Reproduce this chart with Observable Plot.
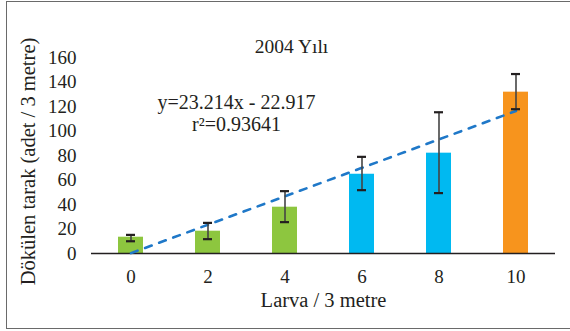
<!DOCTYPE html>
<html>
<head>
<meta charset="utf-8">
<script src="https://cdn.jsdelivr.net/npm/d3@7"></script>
<script src="https://cdn.jsdelivr.net/npm/@observablehq/plot@0.6"></script>
<style>
  html, body { margin: 0; padding: 0; background: #fff; }
  #wrap { position: relative; width: 570px; height: 331px; overflow: hidden; }
  #frame { position: absolute; left: 6px; top: 1px; width: 580px; height: 326px; border: 1px solid #6a6a6a; box-sizing: content-box; pointer-events: none; }
  #chart { position: absolute; left: 0; top: 0; }
  #chart svg text { font-family: 'Liberation Serif', 'Times New Roman', serif; }
</style>
</head>
<body>
<div id="wrap"><div id="frame"></div><div id="chart"></div></div>
<script>
// ---- data ----
const categories = ["0", "2", "4", "6", "8", "10"];
const means = [13.3, 18.2, 37.8, 64.7, 81.9, 131.7];
const lows = [10.0, 11.7, 25.6, 51.7, 49.3, 117.8];
const highs = [15.2, 25.0, 50.9, 78.9, 115.3, 146.5];
const barColors = ["#8dc63f", "#8dc63f", "#8dc63f", "#00b9f1", "#00b9f1", "#f7941d"];
// trendline y = 23.214x - 22.917 (x = 1..6), values at each category
const trendValues = [0.297, 23.511, 46.725, 69.939, 93.153, 116.367];
const yTicks = [0, 20, 40, 60, 80, 100, 120, 140, 160];
const titleText = "2004 Yılı";
const equationText = "y=23.214x - 22.917";
const r2Text = "r²=0.93641";
const xLabel = "Larva / 3 metre";
const yLabel = "Dökülen tarak (adet / 3 metre)";

const rows = categories.map((c, i) => ({
  cat: c, mean: means[i], low: lows[i], high: highs[i], color: barColors[i], trend: trendValues[i]
}));

const FONT = "'Liberation Serif', 'Times New Roman', serif";
const INK = "#231f20";

const chart = Plot.plot({
  width: 570,
  height: 331,
  marginLeft: 91,
  marginRight: 15,
  marginTop: 57,
  marginBottom: 78,
  style: { fontFamily: FONT, color: INK, background: "transparent" },
  x: { type: "band", domain: categories, paddingInner: 0.677, paddingOuter: 0.3385 },
  y: { domain: [0, 160] },
  marks: [
    Plot.barY(rows, { x: "cat", y: "mean", fill: "color" }),
    Plot.ruleY([0], { stroke: INK, strokeWidth: 1.5 }),
    Plot.line(rows, { x: "cat", y: "trend", stroke: "#1f78c8", strokeWidth: 2.6, strokeDasharray: "7,8" }),
    Plot.ruleX(rows, { x: "cat", y1: "low", y2: "high", stroke: "#444", strokeWidth: 1.6 }),
    Plot.tickY(rows, { x: "cat", y: "low", stroke: INK, strokeWidth: 2.2, insetLeft: 8, insetRight: 8 }),
    Plot.tickY(rows, { x: "cat", y: "high", stroke: INK, strokeWidth: 2.2, insetLeft: 8, insetRight: 8 }),
    Plot.axisY({ ticks: yTicks, tickSize: 0, tickPadding: 15, label: null, fontSize: 19, fontFamily: FONT, fill: INK }),
    Plot.axisX({ tickSize: 0, tickPadding: 16, label: null, fontSize: 19, fontFamily: FONT, fill: INK }),
    Plot.text([titleText], { frameAnchor: "top-left", dx: 200, dy: -18, text: d => d, fontSize: 19.5, fontFamily: FONT, fill: INK, textAnchor: "middle" }),
    Plot.text([equationText], { frameAnchor: "top-left", dx: 145, dy: 37, text: d => d, fontSize: 20, fontFamily: FONT, fill: INK, textAnchor: "middle" }),
    Plot.text([r2Text], { frameAnchor: "top-left", dx: 145, dy: 59, text: d => d, fontSize: 20, fontFamily: FONT, fill: INK, textAnchor: "middle" }),
    Plot.text([xLabel], { frameAnchor: "bottom", dy: 53, text: d => d, fontSize: 20.5, fontFamily: FONT, fill: INK, textAnchor: "middle" }),
    Plot.text([yLabel], { frameAnchor: "left", dx: -63, dy: 6, rotate: -90, text: d => d, fontSize: 20.5, fontFamily: FONT, fill: INK, textAnchor: "middle" })
  ]
});
document.getElementById("chart").appendChild(chart);
</script>
</body>
</html>
